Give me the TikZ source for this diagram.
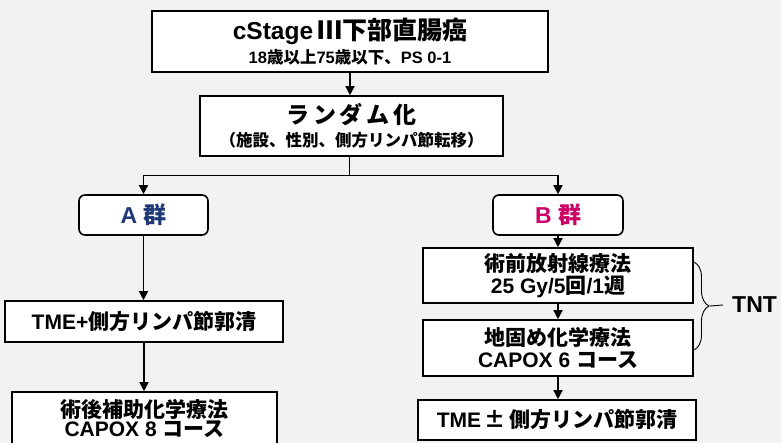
\documentclass[tikz,border=0pt]{standalone}
\usepackage{fontspec}
\setmainfont{Liberation Sans}
\newfontfamily\jp{Noto Sans CJK JP}[Scale=1.0]
\usetikzlibrary{arrows.meta,decorations.pathreplacing}
\definecolor{bg}{RGB}{242,242,242}
\definecolor{navyA}{RGB}{31,56,120}
\definecolor{magB}{RGB}{204,0,102}
\newcommand\J[1]{{\jp #1}}
\newcommand\fs[1]{\fontsize{#1}{#1}\selectfont}
\begin{document}
\begin{tikzpicture}[x=1pt,y=-1pt,
  box/.style={draw=black, line width=1.6pt, fill=white, inner sep=0pt, align=center, font=\bfseries},
  grp/.style={box, rounded corners=6pt},
  arr/.style={line width=1.4pt, -{Triangle[length=9pt,width=9pt]}},
  ln/.style={line width=1.4pt}]
\fill[bg] (0,0) rectangle (781,443);
\useasboundingbox (0,0) rectangle (781,443);

\node[box, minimum width=396, minimum height=61] (top) at (350,41.5)
  {\fs{24.5}cStage\,\J{\fs{25}Ⅲ下部直腸癌}\\[3pt]\fs{16.5}18\J{歳以上}75\J{歳以下、}PS 0-1};
\node[box, minimum width=303, minimum height=60] (rand) at (351.5,126)
  {\fs{23}\J{ラ\,ン\,ダ\,ム\,化}\\[5pt]\fs{16.5}\J{（施設、性別、側方リンパ節転移）}};

\node[grp, minimum width=129, minimum height=40] (A) at (143.5,215)
  {\fs{23}\color{navyA}A \J{群}};
\node[grp, minimum width=130, minimum height=40] (B) at (558,215)
  {\fs{23}\color{magB}B \J{群}};

\node[box, minimum width=278, minimum height=41] (tmeA) at (144,321.5)
  {\fs{21}TME+\J{側方リンパ節郭清}};
\node[box, minimum width=265, minimum height=53] (post) at (144.5,418.5)
  {\fs{21}\J{術後補助化学療法}\\[0pt]\fs{21}CAPOX 8 \J{コース}};

\node[box, minimum width=270, minimum height=55] (rad) at (558,275.5)
  {\fs{21}\J{術前放射線療法}\\[1pt]\fs{21}25 Gy/5\J{回}/1\J{週}};
\node[box, minimum width=270, minimum height=56] (chemo) at (558,348)
  {\fs{21}\J{地固め化学療法}\\[3pt]\fs{21}CAPOX 6 \J{コース}};
\node[box, minimum width=278, minimum height=40] (tmeB) at (557,420)
  {\fs{21}TME\,\J{±}\,\J{側方リンパ節郭清}};

\node[inner sep=0pt, anchor=west, font=\bfseries] (tnt) at (732,305) {\fs{23}TNT};

% connectors
\draw[arr] (top.south) -- (top.south |- rand.north);
\coordinate (br) at (349.5,175.5);
\draw[ln] (rand.south -| br) -- (br);
\draw[arr] (br) -| (A.north);
\draw[arr] (br) -| (B.north);
\draw[arr] (A.south) -- (A.south |- tmeA.north);
\draw[arr] (tmeA.south) -- (tmeA.south |- post.north);
\draw[arr] (B.south) -- (B.south |- rad.north);
\draw[arr] (rad.south) -- (rad.south |- chemo.north);
\draw[arr] (chemo.south) -- (chemo.south |- tmeB.north);

% brace
\draw[line width=0.9pt, decorate, decoration={brace, amplitude=15pt, aspect=0.5}]
  (694,262) -- (694,350);
\coordinate (tip) at (710,306);
\draw[line width=0.9pt] (tip) -- ([xshift=-9pt]tnt.west);
\end{tikzpicture}
\end{document}
